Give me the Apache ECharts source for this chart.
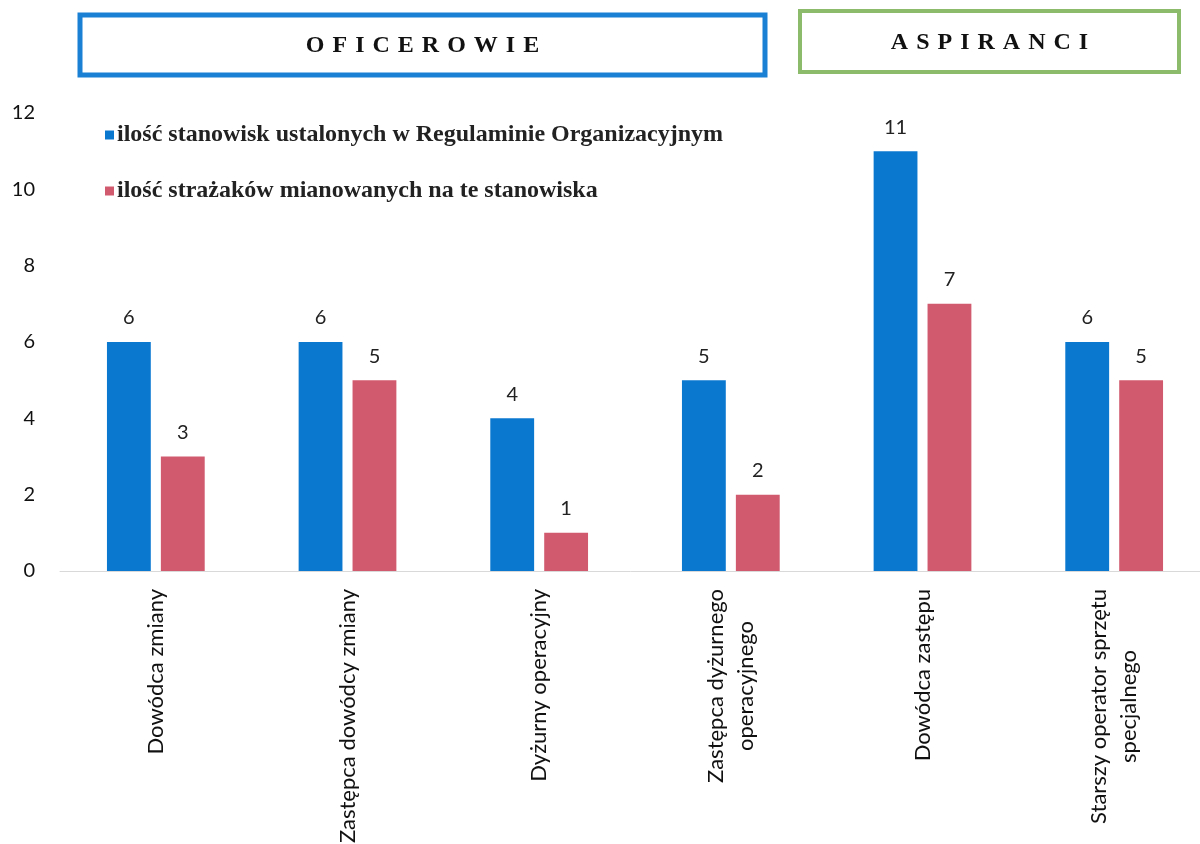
<!DOCTYPE html>
<html>
<head>
<meta charset="utf-8">
<script src="https://cdn.jsdelivr.net/npm/echarts@6/dist/echarts.min.js"></script>
<style>
  html, body { margin: 0; padding: 0; background: #fff; }
  #chart { width: 1200px; height: 844px; }
</style>
</head>
<body>
<div id="chart"></div>
<script>
const categories = [
    'Dowódca zmiany',
    'Zastępca dowódcy zmiany',
    'Dyżurny operacyjny',
    'Zastępca dyżurnego\noperacyjnego',
    'Dowódca zastępu',
    'Starszy operator sprzętu\nspecjalnego'
];
const seriesNames = [
    'ilość stanowisk ustalonych w Regulaminie Organizacyjnym',
    'ilość strażaków mianowanych na te stanowiska'
];
const etatValues = [6, 6, 4, 5, 11, 6];
const mianowaniValues = [3, 5, 1, 2, 7, 5];
const yTicks = [0, 2, 4, 6, 8, 10, 12];

const chart = echarts.init(document.getElementById('chart'), null, {renderer: 'canvas'});

const labelFont = 'Lato, "Open Sans", sans-serif';
const headFont = '"Liberation Serif", "DejaVu Serif", serif';

function barLabel() {
    return {
        show: true,
        position: 'top',
        distance: 14,
        color: '#222',
        fontSize: 20,
        fontFamily: labelFont
    };
}

// spread the letters of a header word like the original
function spaced(word) {
    return word.split('').join('\u2004');
}

function headerBox(x, y, w, h, color, lineW, text) {
    return {
        type: 'group',
        children: [
            {
                type: 'rect',
                shape: {x: x, y: y, width: w, height: h},
                style: {fill: '#fff', stroke: color, lineWidth: lineW}
            },
            {
                type: 'text',
                x: x + w / 2,
                y: y + h / 2 + 1,
                style: {
                    text: spaced(text),
                    fill: '#111',
                    font: 'bold 24px ' + headFont,
                    align: 'center',
                    verticalAlign: 'middle'
                }
            }
        ]
    };
}

const option = {
    backgroundColor: '#ffffff',
    animation: false,
    color: ['#0b78d0', '#d25a6e'],
    legend: {
        orient: 'vertical',
        left: 100,
        top: 118,
        itemWidth: 9,
        itemHeight: 9,
        itemGap: 32,
        icon: 'rect',
        textStyle: {
            fontFamily: headFont,
            fontWeight: 'bold',
            fontSize: 24,
            color: '#222',
            padding: [0, 0, 0, -2]
        },
        data: seriesNames
    },
    grid: {
        left: 60,
        right: -10,
        top: 113,
        bottom: 273,
        containLabel: false,
        outerBoundsMode: 'none'
    },
    xAxis: {
        type: 'category',
        data: categories,
        axisLine: {lineStyle: {color: '#d9d9d9', width: 1}},
        axisTick: {show: false},
        axisLabel: {
            rotate: 90,
            interval: 0,
            margin: 18,
            color: '#111',
            fontSize: 22,
            lineHeight: 30,
            fontFamily: labelFont,
            // center the shorter line of two-line labels
            formatter: function (v) {
                return v.split('\n').map(function (s) { return '{c|' + s + '}'; }).join('\n');
            },
            rich: {
                c: {
                    align: 'center',
                    color: '#111',
                    fontSize: 22,
                    lineHeight: 30,
                    fontFamily: labelFont
                }
            }
        }
    },
    yAxis: {
        type: 'value',
        min: yTicks[0],
        max: yTicks[yTicks.length - 1],
        interval: 2,
        splitLine: {show: false},
        axisLine: {show: false},
        axisTick: {show: false},
        axisLabel: {
            margin: 25,
            color: '#111',
            fontSize: 20,
            fontFamily: labelFont
        }
    },
    series: [
        {
            name: seriesNames[0],
            type: 'bar',
            data: etatValues,
            barGap: '23%',
            barCategoryGap: '49%',
            label: barLabel()
        },
        {
            name: seriesNames[1],
            type: 'bar',
            data: mianowaniValues,
            label: barLabel()
        }
    ],
    graphic: [
        headerBox(80, 15, 685, 60, '#1a80d3', 5, 'OFICEROWIE'),
        headerBox(800, 11, 379, 61, '#8cbb6c', 4, 'ASPIRANCI')
    ]
};

chart.setOption(option);
</script>
</body>
</html>
